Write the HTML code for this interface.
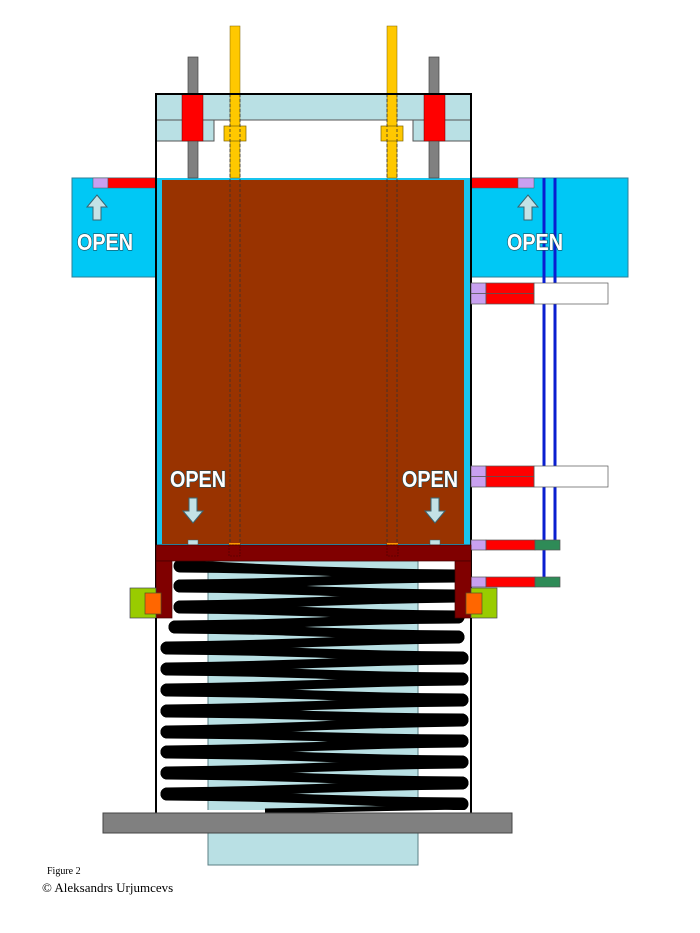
<!DOCTYPE html>
<html><head><meta charset="utf-8"><style>
body{margin:0;background:#fff;width:700px;height:933px;overflow:hidden}
svg{display:block}
.o{font-family:"Liberation Sans",sans-serif;font-weight:bold;font-size:23px;fill:#fff;stroke:#1b4a5a;stroke-width:1.3;paint-order:stroke}
</style></head><body>
<svg id="s" width="700" height="933" viewBox="0 0 700 933" xmlns="http://www.w3.org/2000/svg">
<rect x="208" y="561" width="210" height="252" fill="#b9e0e4" stroke="#5b7f85"/>
<rect x="208" y="833" width="210" height="32" fill="#b9e0e4" stroke="#5b7f85"/>
<rect x="72" y="178" width="84" height="99" fill="#00c8f5" stroke="#2d7f98"/>
<rect x="471" y="178" width="157" height="99" fill="#00c8f5" stroke="#2d7f98"/>
<rect x="93" y="178" width="15" height="10" fill="#c9a0f0" stroke="#555" stroke-width=".5"/>
<rect x="108" y="178" width="48" height="10" fill="#f00" stroke="#555" stroke-width=".5"/>
<rect x="471" y="178" width="47" height="10" fill="#f00" stroke="#555" stroke-width=".5"/>
<rect x="518" y="178" width="16" height="10" fill="#c9a0f0" stroke="#555" stroke-width=".5"/>
<line x1="544" y1="178" x2="544" y2="580" stroke="#0a1fd0" stroke-width="3"/>
<line x1="555" y1="178" x2="555" y2="545" stroke="#0a1fd0" stroke-width="3"/>
<path d="M87 207 L97 195 L107 207 L101 207 L101 220 L93 220 L93 207Z" fill="#c3e2e6" stroke="#3a6470"/>
<path d="M518 207 L528 195 L538 207 L532 207 L532 220 L524 220 L524 207Z" fill="#c3e2e6" stroke="#3a6470"/>
<text class="o" x="77" y="250" transform="translate(77 0) scale(0.86 1) translate(-77 0)">OPEN</text>
<text class="o" x="507" y="250" transform="translate(507 0) scale(0.86 1) translate(-507 0)">OPEN</text>
<rect x="156" y="178" width="315" height="367" fill="#18c4ee"/>
<rect x="162" y="180" width="302" height="364" fill="#993300"/>
<rect x="156" y="94" width="315" height="26" fill="#b9e0e4" stroke="#555"/>
<rect x="156" y="120" width="58" height="21" fill="#b9e0e4" stroke="#555"/>
<rect x="413" y="120" width="58" height="21" fill="#b9e0e4" stroke="#555"/>
<rect x="188" y="57" width="10" height="121" fill="#808080" stroke="#444" stroke-width=".7"/>
<rect x="429" y="57" width="10" height="121" fill="#808080" stroke="#444" stroke-width=".7"/>
<rect x="182" y="94" width="21" height="47" fill="#f00" stroke="#600" stroke-width=".5"/>
<rect x="424" y="94" width="21" height="47" fill="#f00" stroke="#600" stroke-width=".5"/>
<rect x="230" y="26" width="10" height="152" fill="#ffc800" stroke="#7a6000" stroke-width=".5"/>
<rect x="387" y="26" width="10" height="152" fill="#ffc800" stroke="#7a6000" stroke-width=".5"/>
<rect x="224" y="126" width="22" height="15" fill="#ffc800" stroke="#7a6000" stroke-width=".7"/>
<rect x="381" y="126" width="22" height="15" fill="#ffc800" stroke="#7a6000" stroke-width=".7"/>
<g stroke="#333" stroke-width=".8" stroke-dasharray="3,2">
<line x1="230" y1="94" x2="230" y2="556"/><line x1="240" y1="94" x2="240" y2="556"/>
<line x1="387" y1="94" x2="387" y2="556"/><line x1="397" y1="94" x2="397" y2="556"/>
</g>
<path d="M156 813 V94 H471 V813" fill="none" stroke="#000" stroke-width="2"/>
<text class="o" x="170" y="487" transform="translate(170 0) scale(0.86 1) translate(-170 0)">OPEN</text>
<text class="o" x="402" y="487" transform="translate(402 0) scale(0.86 1) translate(-402 0)">OPEN</text>
<path d="M183 511 L193 523 L203 511 L197 511 L197 498 L189 498 L189 511Z" fill="#c3e2e6" stroke="#3a6470"/>
<path d="M425 511 L435 523 L445 511 L439 511 L439 498 L431 498 L431 511Z" fill="#c3e2e6" stroke="#3a6470"/>
<rect x="188" y="540" width="10" height="5" fill="#c3e2e6" stroke="#3a6470" stroke-width=".5"/>
<rect x="430" y="540" width="10" height="5" fill="#c3e2e6" stroke="#3a6470" stroke-width=".5"/>
<rect x="229" y="543" width="11" height="2" fill="#ff9900"/>
<rect x="387" y="543" width="11" height="2" fill="#ff9900"/>
<g stroke="#555" stroke-width=".7">
<rect x="534" y="283" width="74" height="21" fill="#fff"/>
<rect x="471" y="283" width="15" height="10.5" fill="#c9a0f0"/><rect x="471" y="293.5" width="15" height="10.5" fill="#c9a0f0"/>
<rect x="486" y="283" width="48" height="10.5" fill="#f00"/><rect x="486" y="293.5" width="48" height="10.5" fill="#f00"/>
<rect x="534" y="466" width="74" height="21" fill="#fff"/>
<rect x="471" y="466" width="15" height="10.5" fill="#c9a0f0"/><rect x="471" y="476.5" width="15" height="10.5" fill="#c9a0f0"/>
<rect x="486" y="466" width="48" height="10.5" fill="#f00"/><rect x="486" y="476.5" width="48" height="10.5" fill="#f00"/>
<rect x="471" y="540" width="15" height="10" fill="#c9a0f0"/><rect x="486" y="540" width="49" height="10" fill="#f00"/><rect x="535" y="540" width="25" height="10" fill="#2e8b57"/>
<rect x="471" y="577" width="15" height="10" fill="#c9a0f0"/><rect x="486" y="577" width="49" height="10" fill="#f00"/><rect x="535" y="577" width="25" height="10" fill="#2e8b57"/>
</g>
<line x1="544" y1="277" x2="544" y2="283" stroke="#0a1fd0" stroke-width="3"/>
<g id="spring" fill="#000"></g>
<rect x="157" y="810" width="313" height="3" fill="#fff"/>
<line x1="265" y1="811" x2="462" y2="807" stroke="#000" stroke-width="5"/>
<rect x="156" y="545" width="315" height="16" fill="#800000" stroke="#400" stroke-width=".7"/>
<rect x="156" y="561" width="16" height="57" fill="#800000" stroke="#400" stroke-width=".7"/>
<rect x="455" y="561" width="16" height="57" fill="#800000" stroke="#400" stroke-width=".7"/>
<rect x="229" y="545" width="11" height="11" fill="none" stroke="#400" stroke-width=".6" stroke-dasharray="2,1"/>
<rect x="387" y="545" width="11" height="11" fill="none" stroke="#400" stroke-width=".6" stroke-dasharray="2,1"/>
<rect x="130" y="588" width="26" height="30" fill="#99cc00" stroke="#445" stroke-width=".7"/>
<rect x="471" y="588" width="26" height="30" fill="#99cc00" stroke="#445" stroke-width=".7"/>
<rect x="145" y="593" width="16" height="21" fill="#ff6600" stroke="#552" stroke-width=".7"/>
<rect x="466" y="593" width="16" height="21" fill="#ff6600" stroke="#552" stroke-width=".7"/>
<line x1="156" y1="618" x2="156" y2="813" stroke="#000" stroke-width="2"/>
<line x1="471" y1="618" x2="471" y2="813" stroke="#000" stroke-width="2"/>
<rect x="103" y="813" width="409" height="20" fill="#808080" stroke="#444"/>
<text x="47" y="874" font-family="Liberation Serif,serif" font-size="10">Figure  2</text>
<text x="42" y="892" font-family="Liberation Serif,serif" font-size="13">© Aleksandrs Urjumcevs</text>
</svg>
<script>
(function(){
var g=document.getElementById('spring'),ns='http://www.w3.org/2000/svg';
var L=[180,180,180,175,167,167,167,167,167,167,167,167];
var Ly=[566,586,607,627,648,669,690,711,732,752,773,794];
var Ry=[576,596,617,637,658,679,700,720,741,762,783,804];
function seg(x1,y1,x2,y2){
 var h=6.5,m=2.5,p=document.createElementNS(ns,'path');
 var mx=(x1+x2)/2,my=(y1+y2)/2;
 p.setAttribute('d','M'+x1+' '+(y1-h)+' Q'+mx+' '+(my-m)+' '+x2+' '+(y2-h)+' A'+h+' '+h+' 0 0 1 '+x2+' '+(y2+h)+' Q'+mx+' '+(my+m)+' '+x1+' '+(y1+h)+' A'+h+' '+h+' 0 0 1 '+x1+' '+(y1-h)+'Z');
 g.appendChild(p);
}
for(var i=0;i<12;i++){
 var R=i<4?458:462;
 seg(L[i],Ly[i],R,Ry[i]);
 if(i<11) seg(L[i+1],Ly[i+1],R,Ry[i]);
}
})();
</script>
</body></html>
